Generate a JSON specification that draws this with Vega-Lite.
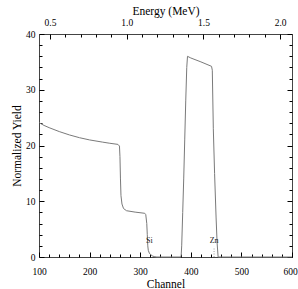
{
  "$schema": "https://vega.github.io/schema/vega-lite/v6.json",
  "autosize": "none",
  "padding": {"left": 39, "top": 34, "right": 6, "bottom": 32},
  "width": 253,
  "height": 223,
  "config": {
    "view": {"stroke": "#444", "strokeWidth": 1},
    "font": "Liberation Serif",
    "axis": {
      "labelFont": "Liberation Serif",
      "titleFont": "Liberation Serif",
      "labelFontSize": 9.5,
      "titleFontSize": 11.5,
      "titleFontWeight": "normal",
      "grid": false
    }
  },
  "layer": [
    {
      "data": {"values": [
        {"ch": 100, "v": 24.1}, {"ch": 110, "v": 23.6}, {"ch": 120, "v": 23.2}, {"ch": 140, "v": 22.5},
        {"ch": 160, "v": 21.9}, {"ch": 180, "v": 21.4}, {"ch": 200, "v": 21.0}, {"ch": 226, "v": 20.6},
        {"ch": 240, "v": 20.4}, {"ch": 256, "v": 20.2}, {"ch": 259, "v": 19.9}, {"ch": 260, "v": 18},
        {"ch": 261, "v": 14}, {"ch": 262, "v": 11}, {"ch": 264, "v": 9.5}, {"ch": 267, "v": 8.7},
        {"ch": 273, "v": 8.3}, {"ch": 290, "v": 8.05}, {"ch": 309, "v": 7.84}, {"ch": 311, "v": 7.6},
        {"ch": 313, "v": 6}, {"ch": 314, "v": 4}, {"ch": 315, "v": 2}, {"ch": 316, "v": 1.2},
        {"ch": 318, "v": 0.7}, {"ch": 321, "v": 0.4}, {"ch": 325, "v": 0.15}, {"ch": 329, "v": 0.05},
        {"ch": 333, "v": 0}, {"ch": 380, "v": 0}, {"ch": 381, "v": 0.3}, {"ch": 382, "v": 2},
        {"ch": 384, "v": 8}, {"ch": 386, "v": 14}, {"ch": 388, "v": 21}, {"ch": 390, "v": 28},
        {"ch": 392, "v": 34}, {"ch": 393.5, "v": 36}, {"ch": 400, "v": 35.7}, {"ch": 420, "v": 35.0},
        {"ch": 441, "v": 34.2}, {"ch": 442.5, "v": 33.5}, {"ch": 444.5, "v": 23}, {"ch": 447, "v": 15},
        {"ch": 450, "v": 7}, {"ch": 452, "v": 2.5}, {"ch": 454, "v": 0}, {"ch": 600, "v": 0}
      ]},
      "mark": {"type": "line", "color": "#7a7a7a", "strokeWidth": 1},
      "encoding": {
        "x": {"field": "ch", "type": "quantitative",
          "scale": {"domain": [100, 600], "nice": false, "zero": false},
          "axis": {"orient": "bottom", "title": "Channel", "domain": false,
            "values": [100,200,300,400,500,600],
            "tickSize": -5, "tickColor": "black", "tickWidth": 1,
            "labelPadding": 14.5, "titlePadding": 2, "labelFlush": false,
            "labelOffset": {"condition": {"test": "datum.value === 600", "value": -2}, "value": 0}}},
        "y": {"field": "v", "type": "quantitative",
          "scale": {"domain": [0, 40], "nice": false},
          "axis": {"orient": "left", "title": "Normalized Yield", "domain": false,
            "values": [0,10,20,30,40],
            "tickSize": -5, "tickColor": "black", "tickWidth": 1,
            "labelPadding": 9, "titlePadding": 3, "labelFlush": false}}
      }
    },
    {
      "data": {"values": [{"ch": 100, "v": 0}, {"ch": 600, "v": 40}]},
      "mark": {"type": "point", "opacity": 0},
      "encoding": {
        "x": {"field": "ch", "type": "quantitative",
          "scale": {"domain": [100, 600], "nice": false, "zero": false},
          "axis": {"orient": "bottom", "title": null, "labels": false, "domain": false,
            "values": [120,140,160,180,220,240,260,280,320,340,360,380,420,440,460,480,520,540,560,580],
            "tickSize": -3, "tickColor": "black", "tickWidth": 1}},
        "y": {"field": "v", "type": "quantitative",
          "scale": {"domain": [0, 40], "nice": false},
          "axis": {"orient": "left", "title": null, "labels": false, "domain": false,
            "values": [2,4,6,8,12,14,16,18,22,24,26,28,32,34,36,38],
            "tickSize": -3, "tickColor": "black", "tickWidth": 1}}
      }
    },
    {
      "data": {"values": [{"ch": 318, "v": 2.9, "t": "Si"}, {"ch": 446, "v": 2.9, "t": "Zn"}]},
      "mark": {"type": "text", "font": "Liberation Serif", "fontSize": 8, "color": "#222"},
      "encoding": {
        "x": {"field": "ch", "type": "quantitative", "scale": {"domain": [100, 600], "nice": false, "zero": false}, "axis": null},
        "y": {"field": "v", "type": "quantitative", "scale": {"domain": [0, 40], "nice": false}, "axis": null},
        "text": {"field": "t"}
      }
    },
    {
      "data": {"values": [{"ch": 446, "v": 0, "v2": 1.8}]},
      "mark": {"type": "rule", "color": "#888", "strokeDash": [1, 1.5], "strokeWidth": 0.8},
      "encoding": {
        "x": {"field": "ch", "type": "quantitative", "scale": {"domain": [100, 600], "nice": false, "zero": false}, "axis": null},
        "y": {"field": "v", "type": "quantitative", "scale": {"domain": [0, 40], "nice": false}, "axis": null},
        "y2": {"field": "v2"}
      }
    },
    {
      "data": {"values": [{"E": 0.5, "v": 0}, {"E": 2.0, "v": 40}]},
      "mark": {"type": "point", "opacity": 0},
      "encoding": {
        "x": {"field": "E", "type": "quantitative",
          "scale": {"domain": [0.4284, 2.077], "nice": false, "zero": false},
          "axis": {"orient": "top", "title": "Energy (MeV)", "domain": false,
            "values": [0.5, 1.0, 1.5, 2.0], "format": ".1f",
            "tickSize": -5, "tickColor": "black", "tickWidth": 1,
            "labelPadding": 12, "titlePadding": 1, "labelFlush": false}},
        "y": {"field": "v", "type": "quantitative",
          "scale": {"domain": [0, 40], "nice": false},
          "axis": {"orient": "right", "title": null, "labels": false, "domain": false,
            "values": [0,10,20,30,40], "tickSize": -5, "tickColor": "black", "tickWidth": 1}}
      }
    },
    {
      "data": {"values": [{"E": 0.5, "v": 0}, {"E": 2.0, "v": 40}]},
      "mark": {"type": "point", "opacity": 0},
      "encoding": {
        "x": {"field": "E", "type": "quantitative",
          "scale": {"domain": [0.4284, 2.077], "nice": false, "zero": false},
          "axis": {"orient": "top", "title": null, "labels": false, "domain": false,
            "values": [0.6,0.7,0.8,0.9,1.1,1.2,1.3,1.4,1.6,1.7,1.8,1.9],
            "tickSize": -3, "tickColor": "black", "tickWidth": 1}},
        "y": {"field": "v", "type": "quantitative",
          "scale": {"domain": [0, 40], "nice": false},
          "axis": {"orient": "right", "title": null, "labels": false, "domain": false,
            "values": [2,4,6,8,12,14,16,18,22,24,26,28,32,34,36,38],
            "tickSize": -3, "tickColor": "black", "tickWidth": 1}}
      }
    }
  ],
  "resolve": {"scale": {"x": "independent", "y": "independent"}}
}
